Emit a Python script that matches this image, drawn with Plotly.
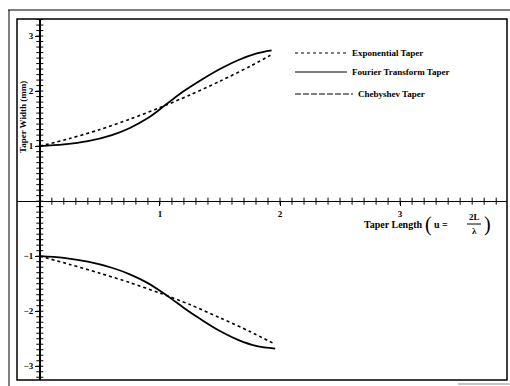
import numpy as np
import plotly.graph_objects as go

# ---- data ----
fourier_x_upper = [0, 0.2, 0.4, 0.6, 0.75, 0.9, 1.0, 1.1, 1.2, 1.35, 1.5, 1.65, 1.8, 1.93]
fourier_y_upper = [1.00, 1.03, 1.09, 1.20, 1.33, 1.51, 1.67, 1.84, 2.00, 2.21, 2.40, 2.56, 2.68, 2.74]
fourier_x_lower = [0, 0.2, 0.4, 0.6, 0.75, 0.9, 1.0, 1.1, 1.2, 1.35, 1.5, 1.65, 1.8, 1.96]
fourier_y_lower = [-1.00, -1.03, -1.10, -1.21, -1.33, -1.49, -1.63, -1.78, -1.94, -2.16, -2.36, -2.52, -2.63, -2.68]

expo_x_upper = [0, 0.25, 0.5, 0.75, 1.0, 1.25, 1.5, 1.75, 1.92]
expo_y_upper = [1.00, 1.14, 1.30, 1.49, 1.70, 1.93, 2.18, 2.45, 2.65]
expo_x_lower = [0, 0.25, 0.5, 0.75, 1.0, 1.25, 1.5, 1.75, 1.96]
expo_y_lower = [-1.00, -1.15, -1.31, -1.48, -1.67, -1.88, -2.12, -2.37, -2.60]

x_ticks = [1, 2, 3]
y_ticks = [-3, -2, -1, 1, 2, 3]
legend_names = ["Exponential Taper", "Fourier Transform Taper", "Chebyshev Taper"]
legend_dashes = ["3px,3px", "solid", "6px,2px"]

# ---- geometry ----
W, H = 510, 386
ML, MR, MT, MB = 17, 3, 19, 6
PW, PH = W - ML - MR, H - MT - MB
XR = [-0.19, 3.89]
YR = [-3.25, 3.31]

def px(x):
    return (x - ML) / PW

def py(y):
    return 1 - (y - MT) / PH

FONT = dict(family="Liberation Serif", size=9, color="black", weight="bold")

fig = go.Figure()

# curves
fig.add_trace(go.Scatter(x=expo_x_upper, y=expo_y_upper, mode="lines", line_shape="spline",
                         line=dict(color="black", width=1.6, dash="3px,3px", smoothing=0.8), showlegend=False))
fig.add_trace(go.Scatter(x=expo_x_lower, y=expo_y_lower, mode="lines", line_shape="spline",
                         line=dict(color="black", width=1.6, dash="3px,3px", smoothing=0.8), showlegend=False))
fig.add_trace(go.Scatter(x=fourier_x_upper, y=fourier_y_upper, mode="lines", line_shape="spline",
                         line=dict(color="black", width=1.8, smoothing=1.0), showlegend=False))
fig.add_trace(go.Scatter(x=fourier_x_lower, y=fourier_y_lower, mode="lines", line_shape="spline",
                         line=dict(color="black", width=1.8, smoothing=1.0), showlegend=False))

# minor tick crosses along the axes
mx = np.round(np.arange(0.1, 3.85, 0.1), 2)
my = np.round(np.arange(-3.2, 3.31, 0.1), 2)
fig.add_trace(go.Scatter(x=mx, y=np.zeros_like(mx), mode="markers", hoverinfo="skip", showlegend=False,
                         marker=dict(symbol="line-ns", size=5, line=dict(color="black", width=1))))
fig.add_trace(go.Scatter(x=np.zeros_like(my), y=my, mode="markers", hoverinfo="skip", showlegend=False,
                         marker=dict(symbol="line-ew", size=5, line=dict(color="black", width=1))))

fig.update_layout(
    width=W, height=H,
    margin=dict(l=ML, r=MR, t=MT, b=MB),
    paper_bgcolor="white", plot_bgcolor="white",
    showlegend=False,
    xaxis=dict(range=XR, anchor="free", position=(0 - YR[0]) / (YR[1] - YR[0]),
               showgrid=False, zeroline=False, showline=True, linecolor="black", linewidth=1.3,
               tickvals=x_ticks, ticks="outside", ticklen=4, tickcolor="black", tickwidth=1.3,
               tickfont=FONT),
    yaxis=dict(range=YR, anchor="free", position=(0 - XR[0]) / (XR[1] - XR[0]),
               showgrid=False, zeroline=False, showline=True, linecolor="black", linewidth=1.6,
               tickvals=y_ticks, ticks="outside", ticklen=4, tickcolor="black", tickwidth=1.3,
               tickfont=FONT),
)

shapes = []
# inner frame (plot area)
shapes.append(dict(type="rect", xref="paper", yref="paper", x0=0, x1=1, y0=0, y1=1,
                   line=dict(color="black", width=1.5)))
# outer frame pieces
shapes.append(dict(type="line", xref="paper", yref="paper", x0=px(8), x1=px(510), y0=py(10), y1=py(10),
                   line=dict(color="black", width=1)))
shapes.append(dict(type="line", xref="paper", yref="paper", x0=px(9), x1=px(9), y0=py(10), y1=py(386),
                   line=dict(color="black", width=1)))
shapes.append(dict(type="line", xref="paper", yref="paper", x0=px(458), x1=px(510), y0=py(384), y1=py(384),
                   line=dict(color="#888", width=1)))

# legend (manual)
leg_y = [53, 72, 94]
leg_text_x = [350, 350, 356]
annotations = []
for name, dash, yy, tx in zip(legend_names, legend_dashes, leg_y, leg_text_x):
    shapes.append(dict(type="line", xref="paper", yref="paper", x0=px(295), x1=px(tx - 3),
                       y0=py(yy), y1=py(yy), line=dict(color="black", width=1.2, dash=dash)))
    annotations.append(dict(xref="paper", yref="paper", x=px(tx), y=py(yy), text=name, showarrow=False,
                            xanchor="left", yanchor="middle", font=FONT))

# axis titles
annotations.append(dict(xref="paper", yref="paper", x=px(23), y=py(117), text="Taper Width (mm)",
                        textangle=-90, showarrow=False, xanchor="center", yanchor="middle", font=FONT))
annotations.append(dict(xref="paper", yref="paper", x=px(362), y=py(224), text="Taper Length",
                        showarrow=False, xanchor="left", yanchor="middle", font=dict(FONT, size=10)))
annotations.append(dict(xref="paper", yref="paper", x=px(428), y=py(224), text="(",
                        showarrow=False, xanchor="center", yanchor="middle",
                        font=dict(family="Liberation Serif", size=20, color="black")))
annotations.append(dict(xref="paper", yref="paper", x=px(432), y=py(224), text="u =",
                        showarrow=False, xanchor="left", yanchor="middle", font=dict(FONT, size=10)))
annotations.append(dict(xref="paper", yref="paper", x=px(474), y=py(217), text="2L",
                        showarrow=False, xanchor="center", yanchor="middle", font=dict(FONT, size=9)))
annotations.append(dict(xref="paper", yref="paper", x=px(474), y=py(231), text="λ",
                        showarrow=False, xanchor="center", yanchor="middle", font=dict(FONT, size=9)))
annotations.append(dict(xref="paper", yref="paper", x=px(487), y=py(224), text=")",
                        showarrow=False, xanchor="center", yanchor="middle",
                        font=dict(family="Liberation Serif", size=20, color="black")))
shapes.append(dict(type="line", xref="paper", yref="paper", x0=px(467), x1=px(481), y0=py(224), y1=py(224),
                   line=dict(color="black", width=1)))

fig.update_layout(shapes=shapes, annotations=annotations)
fig.write_html("out.html", config={"displayModeBar": False},
               post_script="document.body.style.margin='0';")
